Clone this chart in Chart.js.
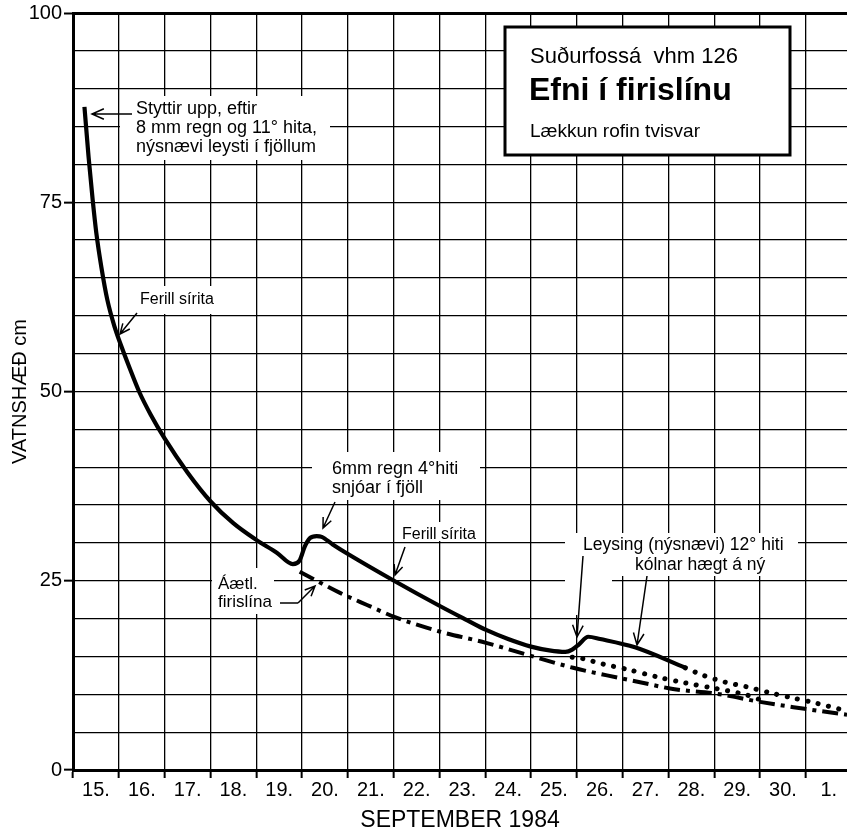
<!DOCTYPE html>
<html>
<head>
<meta charset="utf-8">
<title>Suðurfossá vhm 126</title>
<script src="https://cdn.jsdelivr.net/npm/chart.js@4.4.0/dist/chart.umd.min.js"></script>
<style>
  html, body { margin: 0; padding: 0; background: #fff; }
  canvas { display: block; }
</style>
</head>
<body>
<canvas id="c" width="847" height="836"></canvas>
<script>
// x = days after 15 Sept 1984 00:00, y = water level in cm
const dayLabels = ['15.', '16.', '17.', '18.', '19.', '20.', '21.', '22.', '23.', '24.',
                   '25.', '26.', '27.', '28.', '29.', '30.', '1.'];
const levelTicks = [0, 25, 50, 75, 100];

// recorder curve (Ferill sírita)
const recDays   = [0.25, 0.34, 0.43, 0.51, 0.62, 0.75, 0.91, 1.06, 1.23, 1.45, 1.70, 2.00,
                   2.50, 3.00, 3.50, 4.00, 4.45, 4.80, 4.95, 5.06, 5.17, 5.32, 5.43, 5.67,
                   6.04, 6.98, 8.03, 8.60, 9.02, 9.50, 10.00, 10.40, 10.75, 10.90, 11.05,
                   11.25, 11.51, 12.27, 13.37];
const recLevels = [87.6, 81.0, 75.3, 70.9, 66.4, 62.1, 58.5, 55.9, 53.2, 49.9, 46.9, 43.8,
                   39.3, 35.5, 32.6, 30.4, 28.7, 27.2, 27.7, 29.5, 30.6, 30.9, 30.8, 29.8,
                   28.4, 25.1, 21.6, 19.8, 18.5, 17.3, 16.3, 15.8, 15.6, 15.9, 16.6,
                   17.6, 17.3, 16.2, 13.5];

// recession continued after recorder stops (dotted)
const tailDays   = [13.37, 13.76, 14.24, 14.70, 15.22, 15.73, 16.21, 16.90];
const tailLevels = [13.5, 12.5, 11.6, 11.0, 10.2, 9.5, 8.85, 7.8];

// natural recession without the 26th thaw (dotted)
const natDays   = [10.90, 11.14, 11.57, 12.10, 12.75, 13.37, 14.00, 14.66, 15.00];
const natLevels = [14.9, 14.7, 14.0, 13.3, 12.3, 11.5, 10.8, 10.0, 9.3];

// estimated base flow line (Áætl. firislína, dash-dot)
const baseDays   = [4.95, 5.32, 5.83, 6.42, 7.03, 8.00, 9.02, 9.76, 10.92, 11.66, 12.38,
                    13.10, 14.02, 15.00, 15.73, 16.90];
const baseLevels = [26.2, 25.0, 23.4, 21.8, 20.2, 18.3, 16.8, 15.5, 13.5, 12.5, 11.6,
                    10.7, 10.1, 9.0, 8.3, 7.3];

const pts = (xs, ys) => xs.map((x, i) => ({ x: x, y: ys[i] }));

const FONT = "'Liberation Sans', Arial, sans-serif";

function arrow(ctx, x1, y1, x2, y2, head) {
    const a = Math.atan2(y2 - y1, x2 - x1);
    const h = head || 11;
    ctx.beginPath();
    ctx.moveTo(x1, y1);
    ctx.lineTo(x2, y2);
    ctx.moveTo(x2 - h * Math.cos(a - 0.42), y2 - h * Math.sin(a - 0.42));
    ctx.lineTo(x2, y2);
    ctx.lineTo(x2 - h * Math.cos(a + 0.42), y2 - h * Math.sin(a + 0.42));
    ctx.stroke();
}

function lines(ctx, arr, x, y0, dy) {
    arr.forEach((t, i) => ctx.fillText(t, x, y0 + i * dy));
}

const notes = {
    id: 'notes',
    beforeDatasetsDraw(chart) {
        const ctx = chart.ctx;
        ctx.save();
        // white patches where the lettering covers the grid
        ctx.fillStyle = '#fff';
        [[120, 96, 210, 64], [312, 452, 168, 48], [395, 522, 88, 19], [212, 568, 62, 46],
         [565, 533, 233, 43], [565, 576, 47, 39], [124, 286, 96, 28]].forEach(r => ctx.fillRect(r[0], r[1], r[2], r[3]));

        // title box
        ctx.fillRect(505, 27, 285, 128);
        ctx.lineWidth = 3;
        ctx.strokeStyle = '#000';
        ctx.strokeRect(505, 27, 285, 128);

        ctx.fillStyle = '#000';
        ctx.textBaseline = 'middle';
        ctx.textAlign = 'left';
        ctx.font = '22px ' + FONT;
        ctx.fillText('Suðurfossá  vhm 126', 530, 57);
        ctx.font = 'bold 32px ' + FONT;
        ctx.fillText('Efni í firislínu', 529, 91);
        ctx.font = '19px ' + FONT;
        ctx.fillText('Lækkun rofin tvisvar', 530, 132);

        ctx.font = '18px ' + FONT;
        lines(ctx, ['Styttir upp, eftir', '8 mm regn og 11° hita,', 'nýsnævi leysti í fjöllum'], 136, 109, 19);
        lines(ctx, ['6mm regn 4°hiti', 'snjóar í fjöll'], 332, 469, 19);
        ctx.font = '17.5px ' + FONT;
        ctx.fillText('Leysing (nýsnævi) 12° hiti', 583, 545);
        ctx.fillText('kólnar hægt á ný', 635, 565);
        ctx.font = '16px ' + FONT;
        ctx.fillText('Ferill sírita', 140, 300);
        ctx.fillText('Ferill sírita', 402, 535);
        ctx.font = '17px ' + FONT;
        lines(ctx, ['Áætl.', 'firislína'], 218, 584, 18);

        ctx.lineWidth = 1.5;
        arrow(ctx, 132, 114, 92, 114, 13);
        arrow(ctx, 137, 313, 120, 334);
        arrow(ctx, 335, 502, 323, 528);
        arrow(ctx, 405, 547, 395, 575);
        ctx.beginPath();
        ctx.moveTo(280, 603);
        ctx.lineTo(298, 603);
        ctx.stroke();
        arrow(ctx, 298, 603, 315, 586);
        arrow(ctx, 583, 556, 577, 637, 13);
        arrow(ctx, 647, 576, 637, 645, 13);
        ctx.restore();
    }
};

new Chart(document.getElementById('c'), {
    type: 'line',
    data: {
        datasets: [
            {
                label: 'Ferill sírita',
                data: pts(recDays, recLevels),
                borderColor: '#000',
                borderWidth: 4.2,
                cubicInterpolationMode: 'monotone',
                pointRadius: 0
            },
            {
                label: 'framhald',
                data: pts(tailDays, tailLevels),
                borderColor: '#000',
                borderWidth: 5,
                borderDash: [0.1, 10.5],
                borderCapStyle: 'round',
                tension: 0.3,
                pointRadius: 0
            },
            {
                label: 'lækkun',
                data: pts(natDays, natLevels),
                borderColor: '#000',
                borderWidth: 5,
                borderDash: [0.1, 10.5],
                borderCapStyle: 'round',
                tension: 0.3,
                pointRadius: 0
            },
            {
                label: 'Áætl. firislína',
                data: pts(baseDays, baseLevels),
                borderColor: '#000',
                borderWidth: 4,
                borderDash: [16, 6, 4, 6],
                cubicInterpolationMode: 'monotone',
                pointRadius: 0
            }
        ]
    },
    options: {
        responsive: false,
        animation: false,
        devicePixelRatio: 1,
        layout: { padding: 0 },
        plugins: { legend: { display: false }, tooltip: { enabled: false } },
        scales: {
            x: {
                type: 'linear',
                min: 0,
                max: 16.9,
                afterFit(s) { s.height = 66; s.paddingLeft = 0; s.paddingRight = 0; },
                border: { color: '#000', width: 3 },
                grid: { color: '#000', lineWidth: 1.3, tickLength: 8, tickColor: '#000', tickWidth: 2 },
                ticks: {
                    stepSize: 1,
                    includeBounds: false,
                    autoSkip: false,
                    maxRotation: 0,
                    labelOffset: 23,
                    padding: 0,
                    color: '#000',
                    font: { family: FONT, size: 20 },
                    callback: v => dayLabels[v] || ''
                },
                title: {
                    display: true,
                    text: 'SEPTEMBER 1984',
                    color: '#000',
                    font: { family: FONT, size: 23 },
                    padding: { top: 0, bottom: 2 }
                }
            },
            y: {
                min: 0,
                max: 100,
                afterFit(s) { s.width = 73; s.paddingTop = 13; s.paddingBottom = 0; },
                border: { color: '#000', width: 3 },
                grid: {
                    color: '#000',
                    lineWidth: c => (c.tick && c.tick.value === 100) ? 3 : 1.3,
                    tickLength: 9,
                    tickWidth: 2,
                    tickColor: c => (c.tick && levelTicks.includes(c.tick.value)) ? '#000' : 'rgba(0,0,0,0)'
                },
                ticks: {
                    stepSize: 5,
                    autoSkip: false,
                    padding: 2,
                    color: '#000',
                    font: { family: FONT, size: 20 },
                    callback: v => levelTicks.includes(v) ? String(v) : ''
                },
                title: {
                    display: true,
                    text: 'VATNSHÆÐ cm',
                    color: '#000',
                    font: { family: FONT, size: 20 },
                    padding: { top: 8, bottom: 0 }
                }
            }
        }
    },
    plugins: [notes]
});
</script>
</body>
</html>
